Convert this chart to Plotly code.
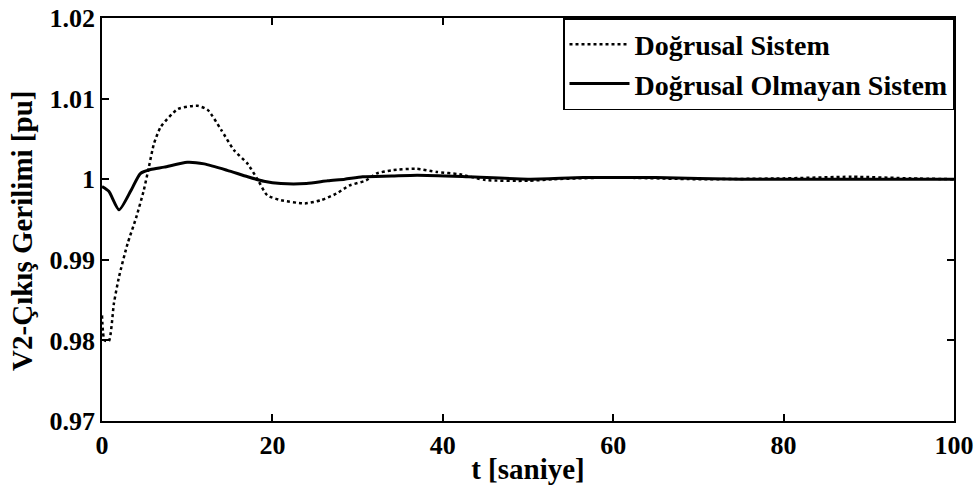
import plotly.graph_objects as go

# Doğrusal Sistem (linear system) - dotted
t_lin = [0, 0.3, 0.8, 1.4, 2.0, 3.0, 4.0, 4.9, 5.5, 6.1, 6.9, 8.9, 11.2, 12.4, 14.0, 15.5,
         17.1, 18.3, 19.4, 21.0, 23.8, 25.7, 27.5, 29.0, 31.0, 32.2, 34.0, 36.9, 39.3,
         42.0, 45.0, 50.0, 53.0, 60.0, 70.0, 80.0, 88.0, 95.0, 100.0]
v_lin = [0.9831, 0.9800, 0.9799, 0.9846, 0.9879, 0.9920, 0.9952, 0.9986, 1.0015, 1.0044,
         1.0065, 1.0087, 1.0091, 1.0086, 1.0061, 1.0036, 1.0019, 0.9999, 0.9980, 0.9974,
         0.9970, 0.9974, 0.9982, 0.9992, 0.99985, 1.0007, 1.0011, 1.0013, 1.0009,
         1.0006, 0.9999, 0.9998, 1.0000, 1.0002, 1.0000, 1.0001, 1.0003, 1.0001, 1.0000]

# Doğrusal Olmayan Sistem (nonlinear system) - solid
t_nl = [0, 0.8, 2.0, 3.4, 4.5, 5.7, 7.3, 10.0, 12.0, 14.7, 17.1, 19.0, 21.0, 24.0, 26.5,
        28.5, 30.6, 34.0, 37.0, 43.0, 50.0, 56.5, 65.0, 75.0, 85.0, 100.0]
v_nl = [0.9991, 0.9985, 0.9962, 0.9986, 1.0007, 1.0012, 1.0015, 1.0021, 1.0019, 1.0011,
        1.0003, 0.99975, 0.99946, 0.99946, 0.9998, 1.0000, 1.0003, 1.0004, 1.0005,
        1.0003, 1.0000, 1.0002, 1.0002, 1.0000, 1.0000, 1.0000]

x_ticks = [0, 20, 40, 60, 80, 100]
y_ticks = [0.97, 0.98, 0.99, 1.0, 1.01, 1.02]
y_tick_text = ["0.97", "0.98", "0.99", "1", "1.01", "1.02"]

FONT = "Liberation Serif"

fig = go.Figure()
fig.add_trace(go.Scatter(x=t_lin, y=v_lin, mode="lines", name="<b>Doğrusal Sistem</b>",
                         line=dict(color="black", width=2.5, dash="dot", shape="spline",
                                   smoothing=0.6)))
fig.add_trace(go.Scatter(x=t_nl, y=v_nl, mode="lines", name="<b>Doğrusal Olmayan Sistem</b>",
                         line=dict(color="black", width=3, shape="spline", smoothing=0.6)))

axis_common = dict(showgrid=False, zeroline=False, showline=True, linecolor="black",
                   linewidth=1.5, mirror="ticks", ticks="inside", ticklen=7,
                   tickcolor="black", tickwidth=1.5,
                   tickfont=dict(family=FONT, size=26, color="black", weight="bold"))

fig.update_xaxes(range=[0, 100], tickvals=x_ticks,
                 title=dict(text="<b>t [saniye]</b>", font=dict(family=FONT, size=29, color="black"),
                            standoff=0),
                 **axis_common)
fig.update_yaxes(range=[0.97, 1.02], tickvals=y_ticks, ticktext=y_tick_text, **axis_common)

# y-axis title as a rotated annotation (positioned like the reference)
fig.add_annotation(text="<b>V2-Çıkış Gerilimi [pu]</b>", textangle=-90,
                   xref="paper", yref="paper", x=-0.094, y=0.4715,
                   xanchor="center", yanchor="middle", showarrow=False,
                   font=dict(family=FONT, size=29, color="black"))

fig.update_layout(
    width=980, height=493,
    margin=dict(l=102, r=26, t=18, b=72, autoexpand=False),
    plot_bgcolor="white", paper_bgcolor="white",
    font=dict(family=FONT, color="black"),
    legend=dict(x=1, y=1, xanchor="right", yanchor="top",
                bgcolor="white", bordercolor="black", borderwidth=1.5,
                font=dict(family=FONT, size=28, color="black"),
                tracegroupgap=0, itemwidth=60),
    showlegend=True,
)

fig.write_html("out.html", config={"displayModeBar": False},
               post_script="document.body.style.margin='0';document.body.style.overflow='hidden';")
